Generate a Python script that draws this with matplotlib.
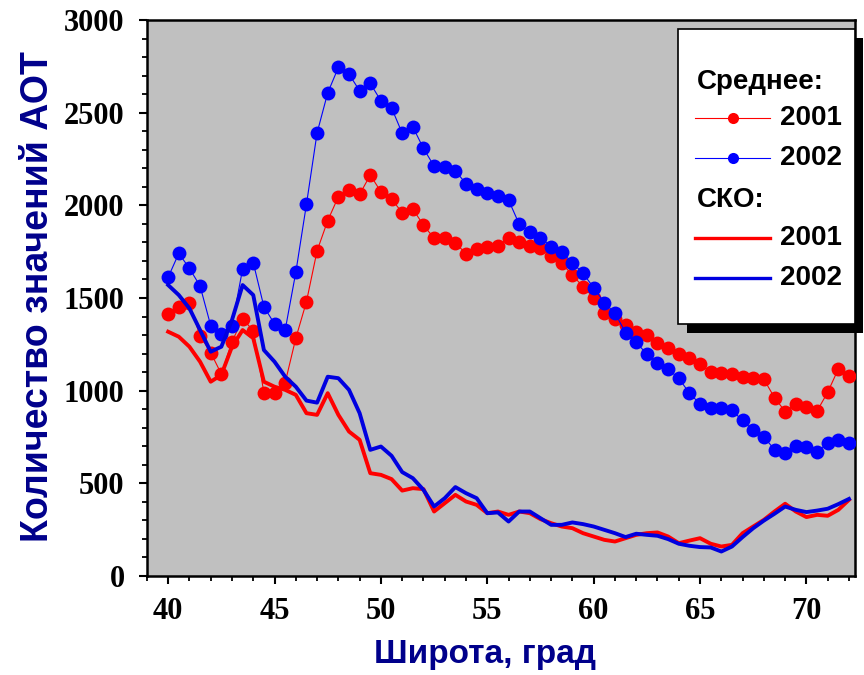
import numpy as np
import matplotlib
matplotlib.use("Agg")
import matplotlib.pyplot as plt
from matplotlib.lines import Line2D
from matplotlib.patches import Rectangle
from matplotlib.ticker import MultipleLocator

# Latitude bins, step 0.5 degree
lat = np.arange(40, 72.5, 0.5)

# Mean number of AOT values
mean_2001 = [1414, 1453, 1471, 1295, 1205, 1090, 1264, 1387, 1324, 989,
             989, 1043, 1283, 1480, 1755, 1918, 2047, 2083, 2060, 2164,
             2074, 2034, 1961, 1980, 1894, 1822, 1822, 1799, 1738, 1764,
             1774, 1782, 1826, 1804, 1782, 1768, 1727, 1687, 1624, 1561,
             1502, 1421, 1385, 1354, 1318, 1300, 1256, 1229, 1200, 1175,
             1142, 1102, 1094, 1088, 1075, 1067, 1061, 962, 887, 928,
             914, 890, 991, 1117, 1081]
mean_2002 = [1612, 1741, 1660, 1565, 1351, 1304, 1351, 1657, 1691, 1453,
             1360, 1327, 1639, 2006, 2392, 2608, 2745, 2709, 2619, 2659,
             2565, 2527, 2390, 2424, 2308, 2212, 2209, 2187, 2117, 2088,
             2065, 2050, 2029, 1899, 1858, 1826, 1777, 1747, 1691, 1633,
             1556, 1475, 1418, 1313, 1262, 1196, 1148, 1115, 1067, 986,
             928, 906, 908, 893, 839, 785, 752, 680, 662, 701,
             698, 671, 716, 734, 716]

# Standard deviation (SKO)
sko_2001 = [1318, 1291, 1237, 1156, 1048, 1085, 1237, 1327, 1283, 1048,
            1021, 1004, 977, 878, 869, 986, 869, 779, 734, 554,
            545, 522, 460, 473, 468, 347, 392, 437, 401, 383,
            338, 347, 329, 347, 338, 306, 284, 266, 257, 230,
            212, 194, 185, 203, 221, 230, 234, 212, 176, 190,
            203, 173, 158, 167, 230, 266, 302, 347, 389, 347,
            317, 329, 324, 356, 410]
sko_2002 = [1570, 1516, 1444, 1327, 1210, 1237, 1381, 1570, 1516, 1219,
            1156, 1075, 1021, 946, 935, 1075, 1067, 1004, 878, 680,
            698, 648, 560, 527, 464, 374, 419, 479, 446, 419,
            338, 342, 293, 347, 347, 311, 275, 275, 288, 279,
            266, 248, 230, 209, 227, 221, 216, 198, 173, 162,
            155, 153, 131, 158, 209, 257, 298, 335, 374, 356,
            344, 352, 362, 387, 415]

RED = '#ff0000'
BLUE = '#0000ff'
SKO_BLUE = '#0000e0'
LABEL_COLOR = '#00008b'

fig = plt.figure(figsize=(8.64, 6.75), dpi=100)
ax = fig.add_axes([0.170, 0.147, 0.820, 0.823])
ax.set_facecolor('#c0c0c0')

# Mean curves: thin line with big dots
ax.plot(lat, mean_2001, color=RED, lw=0.8, marker='o', ms=10,
        markeredgewidth=0, zorder=3)
ax.plot(lat, mean_2002, color=BLUE, lw=0.8, marker='o', ms=10,
        markeredgewidth=0, zorder=3)

# SKO curves: thick lines
ax.plot(lat, sko_2001, color=RED, lw=2.8, zorder=4)
ax.plot(lat, sko_2002, color=SKO_BLUE, lw=2.8, zorder=4)

# Axes
ax.set_xlim(39.0, 72.3)
ax.set_ylim(0, 3000)
ax.xaxis.set_major_locator(MultipleLocator(5))
ax.xaxis.set_minor_locator(MultipleLocator(1))
ax.yaxis.set_major_locator(MultipleLocator(500))
ax.yaxis.set_minor_locator(MultipleLocator(100))
ax.tick_params(which='major', direction='out', length=6, width=1.5)
ax.tick_params(which='minor', direction='out', length=3.5, width=1.3)
ax.tick_params(axis='y', which='major', pad=10)
ax.tick_params(axis='x', which='major', pad=9)
for lab in ax.get_xticklabels() + ax.get_yticklabels():
    lab.set_fontfamily('Liberation Serif')
    lab.set_fontweight('bold')
    lab.set_fontsize(22)
for side in ax.spines.values():
    side.set_linewidth(1.8)

ax.set_xlabel('Широта, град', family='Liberation Sans', weight='bold',
              fontsize=24, color=LABEL_COLOR)
ax.xaxis.set_label_coords(0.477, -0.113)
ax.set_ylabel('Количество значений АОТ', family='Liberation Sans',
              weight='bold', fontsize=27, color=LABEL_COLOR)
ax.yaxis.set_label_coords(-0.128, 0.502)

# Hand-made legend box with black shadow
tr = ax.transAxes
ax.add_patch(Rectangle((0.762, 0.437), 0.249, 0.531, transform=tr,
                       facecolor='black', edgecolor='none', zorder=9,
                       clip_on=False))
ax.add_patch(Rectangle((0.750, 0.453), 0.249, 0.531, transform=tr,
                       facecolor='white', edgecolor='black', lw=1.2,
                       zorder=10, clip_on=False))

font = dict(family='Liberation Sans', weight='bold', fontsize=20,
            color='black', va='center', transform=tr, zorder=11)
x0, x1, xt = 0.774, 0.880, 0.894

ax.text(0.777, 0.888, 'Среднее:', **font)
for y, c in [(0.824, RED), (0.752, BLUE)]:
    ax.add_line(Line2D([x0, x1], [y, y], color=c, lw=0.8, transform=tr,
                       zorder=11))
    ax.add_line(Line2D([(x0 + x1) / 2], [y], color=c, marker='o', ms=8,
                       markeredgewidth=0, transform=tr, zorder=12))
ax.text(xt, 0.824, '2001', **font)
ax.text(xt, 0.752, '2002', **font)

ax.text(0.777, 0.676, 'СКО:', **font)
for y, c in [(0.608, RED), (0.536, SKO_BLUE)]:
    ax.add_line(Line2D([x0, x1], [y, y], color=c, lw=2.4, transform=tr,
                       zorder=11))
ax.text(xt, 0.608, '2001', **font)
ax.text(xt, 0.536, '2002', **font)

fig.savefig('out.png', dpi=100)
